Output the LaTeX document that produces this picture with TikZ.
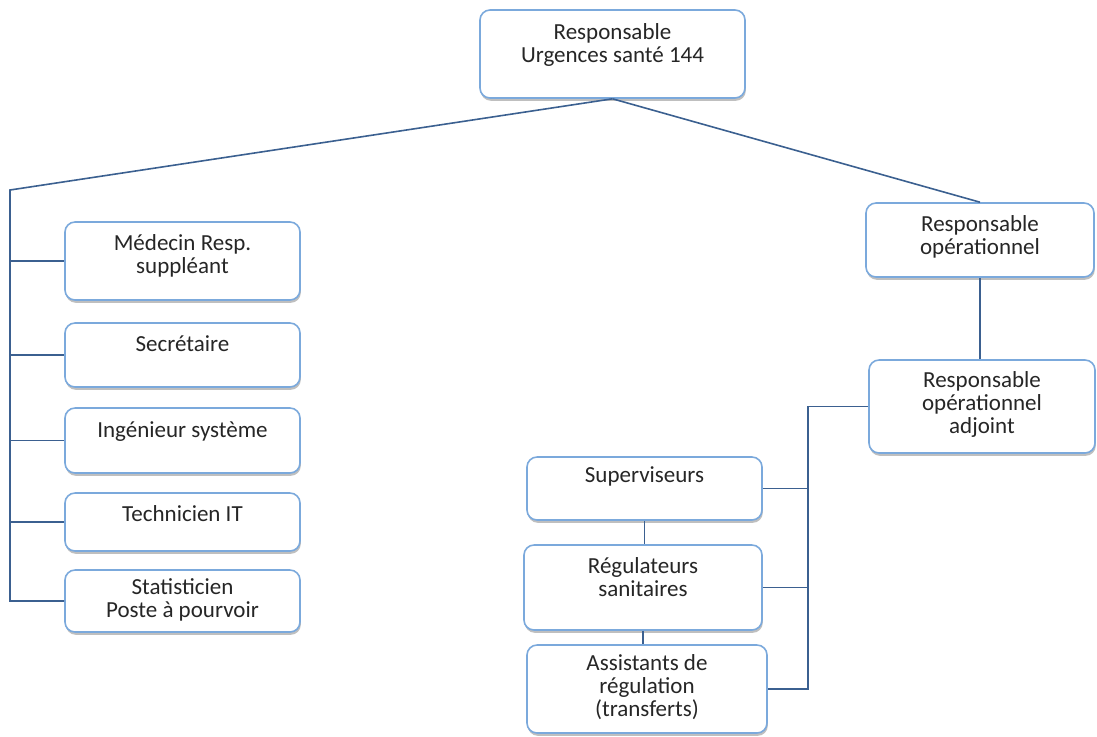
\documentclass[tikz,border=0pt]{standalone}
\usepackage{fontspec}
\setmainfont{Carlito}
\usepackage{tikz}
\usetikzlibrary{shadows}
\usetikzlibrary{calc}
\definecolor{boxline}{HTML}{7BA9DC}
\definecolor{orgline}{HTML}{3B6090}
\tikzstyle{post}=[draw=boxline, line width=0.8pt, rounded corners=5pt, fill=white, drop shadow={shadow xshift=0.4pt, shadow yshift=-1.4pt, opacity=0.5}, inner sep=0pt, font=\fontsize{11.5}{11.5}\selectfont, text=black!85]
\tikzstyle{leftpost}=[post, minimum width=117.5pt]
\tikzstyle{link}=[draw=orgline, line width=0.8pt]
\newcommand{\posttext}[2][3pt]{\raisebox{#1}[\height][\depth]{\begin{tabular}{@{}c@{}}#2\end{tabular}}}

\begin{document}
\begin{tikzpicture}[x=0.5pt,y=-0.5pt]
	\useasboundingbox (0,0) rectangle (1097,736);
	\node[post, minimum width=132.5pt, minimum height=44pt] (top) at (612.5,54) {\posttext[4pt]{Responsable\\Urgences santé 144}};
	\node[leftpost, minimum height=39pt] (med) at (182.5,261) {\posttext[2pt]{Médecin Resp.\\suppléant}};
	\node[leftpost, minimum height=32pt] (sec) at (182.5,355) {\posttext[4pt]{Secrétaire}};
	\node[leftpost, minimum height=32.5pt] (ing) at (182.5,440.5) {\posttext[4pt]{Ingénieur système}};
	\node[leftpost, minimum height=29pt] (tech) at (182.5,522) {\posttext[2.5pt]{Technicien IT}};
	\node[leftpost, minimum height=31pt] (stat) at (182.5,601) {\posttext[0pt]{Statisticien\\Poste à pourvoir}};
	\node[post, minimum width=114pt, minimum height=37pt] (ro) at (980,240) {\posttext[1pt]{Responsable\\opérationnel}};
	\node[post, minimum width=113pt, minimum height=46.5pt] (roa) at (982,406.5) {\posttext[0.5pt]{Responsable\\opérationnel\\adjoint}};
	\node[post, minimum width=117.5pt, minimum height=31.5pt] (sup) at (644.5,488.5) {\posttext[5.5pt]{Superviseurs}};
	\node[post, minimum width=119pt, minimum height=42.5pt] (reg) at (643,587.5) {\posttext[3.5pt]{Régulateurs\\sanitaires}};
	\node[post, minimum width=120pt, minimum height=44pt] (ass) at (647,689) {\posttext[0pt]{Assistants de\\régulation\\(transferts)}};

	\coordinate (lt) at (10,190);
	\coordinate (rt) at (808,686);
	\draw[link] (top.south) -- (lt) -- (lt |- stat.west) -- (stat.west);
	\foreach \n in {med,sec,ing,tech}
		\draw[link] (lt |- \n.west) -- (\n.west);
	\draw[link] (top.south) -- (ro.north);
	\draw[link] (ro.south) -- (ro.south |- roa.north);
	\draw[link] (roa.west) -- (roa.west -| rt) -- (rt) -- (ass.east -| rt) -- (ass.east);
	\foreach \n in {sup,reg}
		\draw[link] (\n.east) -- (\n.east -| rt);
	\draw[link] (sup.south) -- (sup.south |- reg.north);
	\draw[link] (reg.south) -- (reg.south |- ass.north);
\end{tikzpicture}
\end{document}
